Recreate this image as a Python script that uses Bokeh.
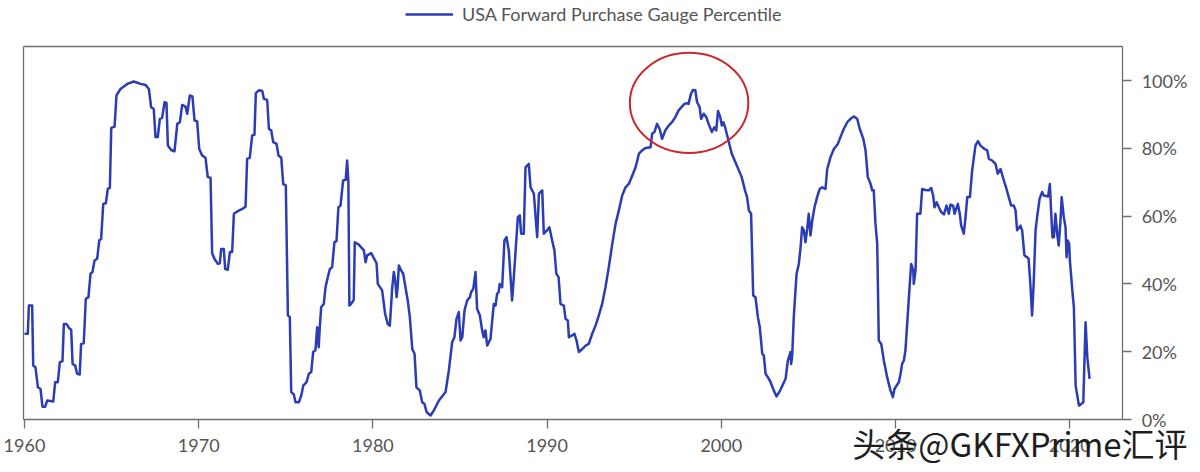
from bokeh.plotting import figure
from bokeh.models import (ColumnDataSource, Range1d, FixedTicker, PrintfTickFormatter,
                          Legend, LegendItem, Label, LinearAxis)
from bokeh.embed import file_html
from bokeh.resources import INLINE

series_name = "USA Forward Purchase Gauge Percentile"
watermark = "头条@GKFXPrime汇评"
x_ticks = [1960, 1970, 1980, 1990, 2000, 2010, 2020]
y_ticks = [0, 20, 40, 60, 80, 100]

years = [
    1960.00, 1960.19, 1960.25, 1960.44, 1960.50, 1960.63, 1960.77, 1960.92, 1961.03, 1961.19,
    1961.30, 1961.65, 1961.76, 1961.91, 1962.03, 1962.18, 1962.26, 1962.41, 1962.60, 1962.68,
    1962.76, 1962.91, 1963.02, 1963.17, 1963.25, 1963.40, 1963.52, 1963.67, 1963.79, 1963.90,
    1964.02, 1964.17, 1964.29, 1964.40, 1964.52, 1964.67, 1964.78, 1964.90, 1964.98, 1965.17,
    1965.28, 1965.51, 1965.90, 1966.27, 1966.66, 1966.95, 1967.14, 1967.27, 1967.42, 1967.52,
    1967.65, 1967.77, 1967.90, 1968.04, 1968.15, 1968.23, 1968.42, 1968.61, 1968.77, 1968.92,
    1969.05, 1969.24, 1969.34, 1969.49, 1969.64, 1969.76, 1969.91, 1970.03, 1970.20, 1970.39,
    1970.52, 1970.68, 1970.77, 1970.90, 1971.10, 1971.21, 1971.29, 1971.44, 1971.52, 1971.67,
    1971.79, 1971.92, 1972.02, 1972.25, 1972.50, 1972.69, 1972.78, 1972.93, 1973.07, 1973.20,
    1973.28, 1973.45, 1973.65, 1973.74, 1973.93, 1974.03, 1974.16, 1974.28, 1974.47, 1974.58,
    1974.74, 1974.85, 1975.00, 1975.12, 1975.23, 1975.31, 1975.46, 1975.56, 1975.75, 1975.89,
    1976.00, 1976.19, 1976.32, 1976.46, 1976.57, 1976.70, 1976.80, 1976.89, 1976.95, 1977.03,
    1977.18, 1977.28, 1977.41, 1977.53, 1977.66, 1977.79, 1977.91, 1978.02, 1978.14, 1978.29,
    1978.44, 1978.52, 1978.59, 1978.65, 1978.75, 1978.90, 1978.96, 1979.19, 1979.48, 1979.58,
    1979.67, 1979.90, 1980.21, 1980.28, 1980.53, 1980.70, 1980.85, 1980.97, 1981.11, 1981.20,
    1981.28, 1981.36, 1981.42, 1981.49, 1981.62, 1981.74, 1981.87, 1982.00, 1982.12, 1982.26,
    1982.39, 1982.50, 1982.69, 1982.83, 1982.96, 1983.08, 1983.31, 1983.50, 1983.79, 1984.17,
    1984.36, 1984.55, 1984.68, 1984.80, 1984.93, 1985.03, 1985.13, 1985.26, 1985.41, 1985.57,
    1985.64, 1985.76, 1985.89, 1985.98, 1986.14, 1986.27, 1986.36, 1986.46, 1986.56, 1986.75,
    1986.94, 1987.04, 1987.13, 1987.22, 1987.28, 1987.42, 1987.55, 1987.67, 1987.80, 1987.99,
    1988.09, 1988.32, 1988.43, 1988.51, 1988.66, 1988.76, 1988.95, 1989.05, 1989.24, 1989.34,
    1989.43, 1989.53, 1989.72, 1989.81, 1990.00, 1990.13, 1990.29, 1990.42, 1990.53, 1990.66,
    1990.77, 1990.96, 1991.06, 1991.19, 1991.25, 1991.44, 1991.57, 1991.69, 1991.82, 1992.02,
    1992.21, 1992.39, 1992.59, 1992.78, 1992.97, 1993.16, 1993.35, 1993.54, 1993.74, 1993.93,
    1994.12, 1994.31, 1994.50, 1994.69, 1994.89, 1995.08, 1995.27, 1995.46, 1995.65, 1995.94,
    1996.03, 1996.16, 1996.31, 1996.46, 1996.60, 1996.79, 1996.98, 1997.17, 1997.36, 1997.55,
    1997.74, 1997.88, 1998.03, 1998.12, 1998.26, 1998.37, 1998.51, 1998.61, 1998.76, 1998.84,
    1998.99, 1999.14, 1999.27, 1999.46, 1999.60, 1999.71, 1999.81, 1999.94, 2000.03, 2000.12,
    2000.22, 2000.41, 2000.60, 2000.89, 2001.17, 2001.36, 2001.48, 2001.58, 2001.71, 2001.83,
    2001.96, 2002.10, 2002.21, 2002.35, 2002.44, 2002.54, 2002.67, 2002.83, 2003.01, 2003.17,
    2003.36, 2003.55, 2003.69, 2003.82, 2003.97, 2004.01, 2004.07, 2004.16, 2004.32, 2004.45,
    2004.55, 2004.64, 2004.74, 2004.83, 2004.93, 2005.02, 2005.12, 2005.22, 2005.35, 2005.50,
    2005.65, 2005.79, 2005.98, 2006.08, 2006.27, 2006.46, 2006.69, 2006.84, 2007.03, 2007.23,
    2007.42, 2007.61, 2007.80, 2007.95, 2008.15, 2008.28, 2008.41, 2008.57, 2008.66, 2008.75,
    2008.85, 2008.95, 2009.04, 2009.18, 2009.33, 2009.52, 2009.71, 2009.85, 2009.94, 2010.06,
    2010.19, 2010.29, 2010.38, 2010.48, 2010.57, 2010.67, 2010.82, 2010.90, 2011.02, 2011.05,
    2011.15, 2011.24, 2011.43, 2011.53, 2011.72, 2011.91, 2012.05, 2012.16, 2012.24, 2012.36,
    2012.49, 2012.62, 2012.78, 2012.93, 2013.06, 2013.16, 2013.31, 2013.39, 2013.58, 2013.69,
    2013.77, 2013.92, 2014.02, 2014.12, 2014.27, 2014.40, 2014.59, 2014.73, 2014.88, 2015.11,
    2015.26, 2015.36, 2015.55, 2015.74, 2015.87, 2016.03, 2016.22, 2016.37, 2016.50, 2016.64,
    2016.79, 2016.89, 2016.98, 2017.17, 2017.27, 2017.40, 2017.55, 2017.64, 2017.74, 2017.84,
    2017.93, 2018.04, 2018.13, 2018.27, 2018.42, 2018.51, 2018.76, 2018.86, 2018.94, 2019.01,
    2019.09, 2019.18, 2019.28, 2019.37, 2019.47, 2019.54, 2019.66, 2019.76, 2019.82, 2019.89,
    2019.97, 2020.01, 2020.15, 2020.24, 2020.34, 2020.53, 2020.67, 2020.78, 2020.91, 2021.01,
    2021.14,
]

percentile = [
    25.3, 25.3, 33.6, 33.6, 15.9, 15.4, 9.5, 9.0, 3.8, 3.8,
    5.6, 5.3, 11.0, 11.0, 16.9, 17.2, 28.2, 28.2, 26.7, 26.5,
    16.4, 15.9, 13.5, 13.3, 22.3, 22.5, 35.6, 36.1, 43.0, 43.5,
    46.9, 47.4, 52.8, 53.3, 63.6, 63.8, 68.0, 68.3, 86.0, 86.4,
    95.6, 97.5, 99.0, 99.7, 99.0, 98.7, 97.5, 92.1, 91.6, 83.3,
    83.3, 88.7, 89.0, 93.6, 93.4, 80.8, 79.5, 79.1, 87.2, 87.7,
    92.8, 92.3, 90.2, 95.6, 95.3, 88.2, 88.0, 79.8, 77.9, 77.2,
    71.5, 71.3, 49.1, 47.4, 45.9, 46.1, 50.3, 50.3, 44.4, 44.2,
    49.4, 49.4, 60.7, 61.5, 62.1, 62.8, 76.9, 77.2, 83.8, 84.0,
    96.3, 97.1, 96.9, 94.6, 94.3, 85.7, 85.3, 81.8, 81.3, 77.9,
    77.2, 69.5, 69.0, 30.7, 30.2, 8.1, 7.4, 5.1, 5.1, 7.1,
    10.0, 11.0, 13.5, 14.0, 19.9, 20.4, 27.2, 21.3, 27.2, 33.1,
    34.1, 39.0, 42.0, 44.4, 44.9, 52.3, 52.6, 62.6, 63.1, 70.5,
    70.7, 76.4, 70.5, 33.6, 34.1, 35.3, 52.3, 51.6, 49.9, 46.4,
    48.4, 49.1, 46.1, 40.0, 38.1, 31.2, 28.2, 27.7, 39.0, 43.5,
    41.0, 36.1, 39.0, 45.4, 44.0, 43.0, 39.0, 35.1, 30.2, 20.8,
    19.4, 9.5, 8.6, 5.1, 4.6, 2.2, 1.2, 2.7, 5.6, 8.1,
    14.5, 22.8, 24.3, 29.7, 31.7, 23.3, 24.3, 32.2, 35.1, 36.1,
    37.6, 38.5, 43.5, 32.7, 30.7, 26.3, 24.3, 26.3, 21.8, 23.8,
    34.1, 33.6, 37.1, 37.6, 40.0, 39.0, 52.8, 53.8, 49.9, 35.1,
    42.0, 59.7, 60.2, 54.8, 54.8, 74.4, 75.4, 68.5, 66.6, 59.7,
    53.8, 66.6, 67.6, 54.8, 55.8, 56.7, 52.8, 49.9, 43.0, 42.0,
    34.1, 33.6, 29.7, 29.2, 24.3, 24.8, 25.3, 23.3, 19.9, 20.8,
    21.8, 22.3, 25.3, 27.7, 30.7, 34.1, 39.0, 44.9, 51.8, 57.7,
    61.7, 66.1, 68.5, 69.5, 72.0, 74.4, 78.4, 79.4, 80.1, 80.3,
    84.3, 84.8, 87.2, 85.7, 82.8, 85.3, 86.7, 87.7, 89.2, 91.2,
    92.3, 93.1, 93.3, 93.1, 96.1, 97.2, 97.1, 93.6, 92.1, 88.7,
    90.2, 89.2, 87.2, 84.8, 86.2, 85.3, 91.0, 89.2, 86.7, 87.7,
    86.2, 82.3, 78.4, 74.9, 71.5, 67.6, 65.6, 61.7, 60.7, 36.6,
    36.1, 30.2, 27.2, 19.4, 18.9, 13.5, 12.5, 11.0, 8.6, 6.8,
    8.4, 10.5, 12.0, 17.4, 19.9, 16.4, 18.9, 30.2, 43.0, 45.9,
    50.8, 56.7, 55.8, 52.3, 56.2, 60.7, 54.3, 58.7, 62.6, 65.6,
    68.0, 68.5, 68.0, 73.9, 77.4, 79.8, 81.3, 83.3, 85.7, 87.7,
    88.7, 89.4, 88.7, 85.7, 82.8, 79.4, 71.5, 69.5, 67.6, 67.6,
    57.7, 51.8, 23.3, 22.3, 17.4, 12.5, 8.6, 6.6, 9.0, 10.0,
    11.0, 13.5, 16.4, 17.4, 20.4, 28.2, 40.0, 45.9, 44.0, 40.0,
    44.0, 60.7, 60.7, 68.0, 67.7, 67.6, 68.3, 66.1, 62.6, 64.1,
    62.6, 61.2, 60.5, 63.1, 60.7, 63.4, 63.1, 60.7, 63.6, 60.7,
    57.2, 54.8, 59.7, 65.6, 65.6, 73.5, 80.8, 82.1, 80.8, 79.8,
    79.4, 76.9, 76.4, 75.4, 72.5, 73.9, 70.5, 68.0, 65.6, 63.1,
    63.1, 61.7, 55.8, 57.2, 55.8, 48.4, 47.9, 47.4, 40.0, 30.7,
    40.0, 55.8, 59.7, 65.1, 67.1, 66.1, 65.8, 69.5, 60.7, 53.8,
    53.8, 60.7, 54.8, 51.3, 58.7, 65.6, 59.7, 56.7, 47.9, 52.8,
    51.8, 46.9, 38.1, 33.1, 10.0, 4.1, 4.6, 5.1, 28.7, 18.4,
    12.0,
]

# red ellipse highlighting the late-1990s peak (centre year, centre value, width in years, height in %)
highlight_center = (1998.15, 93.4)
highlight_size = (6.8, 29.6)

# plot box: years 1959.94..2023.04 horizontally, 0..110 % vertically
BOX_X = (1959.94, 2023.04)
BOX_Y = (0, 110)

source = ColumnDataSource(data=dict(year=years, value=percentile))

AXIS_GREY = "#6e6e6e"
TEXT_GREY = "#555555"

p = figure(width=1200, height=472, output_backend="svg", toolbar_location=None, tools="",
           x_range=Range1d(1958.622, 2027.508), y_range=Range1d(-15.63, 123.6),
           x_axis_location=None, y_axis_location=None, min_border=0,
           background_fill_color="white", border_fill_color="white")
p.xgrid.visible = False
p.ygrid.visible = False
p.outline_line_color = None


def style(ax):
    ax.axis_line_color = AXIS_GREY
    ax.axis_line_width = 1.3
    ax.major_tick_line_color = AXIS_GREY
    ax.major_tick_line_width = 1.3
    ax.major_tick_in = 0
    ax.major_tick_out = 9
    ax.minor_tick_line_color = None
    ax.major_label_text_font = "Lato"
    ax.major_label_text_font_size = "18px"
    ax.major_label_text_color = TEXT_GREY
    return ax


xaxis = style(LinearAxis(fixed_location=BOX_Y[0], bounds=BOX_X,
                         ticker=FixedTicker(ticks=x_ticks),
                         formatter=PrintfTickFormatter(format="%d")))
xaxis.major_label_standoff = 10
p.add_layout(xaxis, "below")

yaxis = style(LinearAxis(fixed_location=BOX_X[1], bounds=BOX_Y,
                         ticker=FixedTicker(ticks=y_ticks),
                         formatter=PrintfTickFormatter(format="%d%%")))
yaxis.major_label_standoff = 10
p.add_layout(yaxis, "right")

# plain frame edges (left and top) without ticks
left_edge = style(LinearAxis(fixed_location=BOX_X[0], bounds=BOX_Y,
                             ticker=FixedTicker(ticks=[])))
p.add_layout(left_edge, "left")
top_edge = style(LinearAxis(fixed_location=BOX_Y[1], bounds=BOX_X,
                            ticker=FixedTicker(ticks=[])))
p.add_layout(top_edge, "above")

line = p.line("year", "value", source=source, line_color="#2a3cb6", line_width=2.5,
              line_join="round")

p.ellipse(x=[highlight_center[0]], y=[highlight_center[1]],
          width=highlight_size[0], height=highlight_size[1],
          fill_color=None, line_color="#c8282a", line_width=2)

legend = Legend(items=[LegendItem(label=series_name, renderers=[line])],
                location=(405, 447), orientation="horizontal",
                border_line_color=None, background_fill_alpha=0,
                padding=0, margin=0, spacing=0,
                glyph_width=48, glyph_height=18, label_standoff=9, label_height=18,
                label_text_font="Lato", label_text_font_size="18px",
                label_text_color=TEXT_GREY)
p.add_layout(legend)

p.add_layout(Label(x=2026.76, y=-6.9, text=watermark, text_font="Noto Sans CJK SC",
                   text_font_size="33px", text_color="#1e1e1e",
                   text_baseline="middle", text_align="right"))

open("out.html", "w").write(file_html(p, INLINE))
